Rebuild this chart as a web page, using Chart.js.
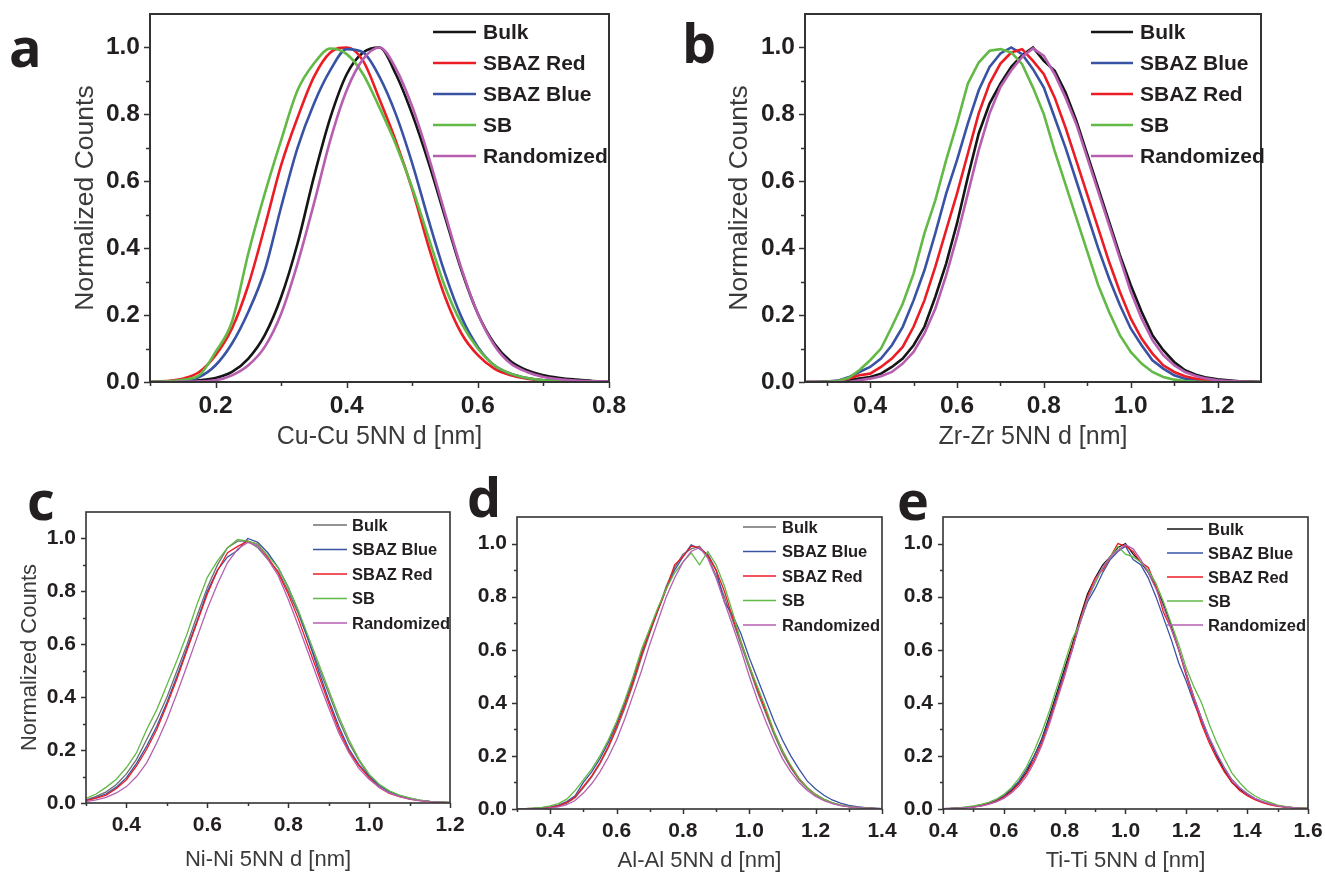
<!DOCTYPE html>
<html lang="en">
<head>
<meta charset="UTF-8">
<title>5NN distance distributions</title>
<script src="https://cdn.jsdelivr.net/npm/chart.js"></script>
<style>
    body { margin: 0; background: #fff; width: 1325px; height: 874px; position: relative; overflow: hidden; }
    .panel { position: absolute; }
    .tag { position: absolute; font: 700 54px "Open Sans", "Noto Sans", sans-serif; color: #231f20; line-height: 1; }
</style>
</head>
<body>
<div class="panel" style="left:0;top:0"><canvas id="chartA" width="660" height="462"></canvas></div>
<div class="panel" style="left:660px;top:0"><canvas id="chartB" width="665" height="462"></canvas></div>
<div class="panel" style="left:0;top:470px"><canvas id="chartC" width="470" height="404"></canvas></div>
<div class="panel" style="left:465px;top:470px"><canvas id="chartD" width="440" height="404"></canvas></div>
<div class="panel" style="left:895px;top:470px"><canvas id="chartE" width="430" height="404"></canvas></div>
<div class="tag" style="left:9px;top:19px">a</div>
<div class="tag" style="left:682px;top:15px">b</div>
<div class="tag" style="left:27px;top:472px">c</div>
<div class="tag" style="left:467px;top:469px">d</div>
<div class="tag" style="left:897px;top:472px">e</div>

<script>
// --- series (normalized counts vs 5NN distance in nm) ---
const namesA = ['Bulk', 'SBAZ Red', 'SBAZ Blue', 'SB', 'Randomized'];
const namesB = ['Bulk', 'SBAZ Blue', 'SBAZ Red', 'SB', 'Randomized'];
const yTicks = [0, 0.2, 0.4, 0.6, 0.8, 1.0];
const yMinor = [0.1, 0.3, 0.5, 0.7, 0.9];

// a: Cu-Cu
const cuX = [0.1,0.125,0.15,0.175,0.2,0.225,0.25,0.275,0.3,0.325,0.35,0.375,0.4,0.425,0.45,0.475,0.5,0.525,0.55,0.575,0.6,0.625,0.65,0.675,0.7,0.725,0.75,0.775,0.8];
const cuBulk = [0,0.001,0.002,0.005,0.012,0.03,0.07,0.14,0.254,0.414,0.613,0.79,0.92,0.985,1.0,0.92,0.8,0.655,0.493,0.334,0.204,0.115,0.062,0.035,0.02,0.012,0.007,0.003,0.001];
const cuRed = [0,0.003,0.01,0.03,0.08,0.16,0.29,0.464,0.648,0.79,0.912,0.985,1.0,0.96,0.845,0.72,0.575,0.404,0.254,0.145,0.08,0.04,0.02,0.01,0.005,0.003,0.001,0,0];
const cuBlue = [0,0.001,0.005,0.015,0.05,0.115,0.21,0.334,0.523,0.7,0.832,0.932,0.995,0.985,0.912,0.8,0.653,0.483,0.324,0.194,0.105,0.05,0.025,0.012,0.005,0.003,0.001,0,0];
const cuSB = [0,0.002,0.007,0.02,0.09,0.18,0.385,0.563,0.723,0.872,0.952,0.997,0.98,0.92,0.82,0.71,0.58,0.43,0.284,0.175,0.1,0.05,0.025,0.012,0.005,0.003,0.001,0,0];
const cuRand = [0,0,0.001,0.002,0.005,0.02,0.05,0.105,0.204,0.354,0.533,0.723,0.872,0.965,1.0,0.937,0.823,0.673,0.503,0.339,0.204,0.11,0.055,0.03,0.015,0.008,0.004,0.002,0.001];
const cuTicks = [0.2, 0.4, 0.6, 0.8];
const cuMinor = [0.1, 0.3, 0.5, 0.7];

// b: Zr-Zr
const zrX = [0.25,0.275,0.3,0.325,0.35,0.375,0.4,0.425,0.45,0.475,0.5,0.525,0.55,0.575,0.6,0.625,0.65,0.675,0.7,0.725,0.75,0.775,0.8,0.825,0.85,0.875,0.9,0.925,0.95,0.975,1.0,1.025,1.05,1.075,1.1,1.125,1.15,1.175,1.2,1.225,1.25,1.275,1.3];
const zrBulk = [0,0,0.001,0.002,0.005,0.01,0.015,0.025,0.045,0.07,0.11,0.165,0.254,0.354,0.474,0.613,0.743,0.832,0.892,0.942,0.977,1.0,0.96,0.93,0.865,0.78,0.68,0.58,0.48,0.38,0.29,0.21,0.14,0.095,0.06,0.035,0.022,0.013,0.008,0.005,0.002,0.001,0];
const zrBlue = [0,0,0.001,0.004,0.014,0.03,0.045,0.07,0.11,0.165,0.244,0.334,0.444,0.563,0.663,0.773,0.872,0.942,0.982,1.0,0.98,0.935,0.88,0.79,0.7,0.6,0.5,0.4,0.31,0.23,0.16,0.11,0.065,0.04,0.02,0.01,0.005,0.002,0.001,0,0,0,0];
const zrRed = [0,0,0,0.003,0.01,0.02,0.025,0.045,0.07,0.105,0.165,0.244,0.344,0.454,0.563,0.683,0.803,0.892,0.952,0.985,0.995,0.96,0.92,0.85,0.76,0.66,0.56,0.46,0.36,0.27,0.19,0.13,0.085,0.05,0.03,0.017,0.01,0.005,0.002,0.001,0,0,0];
const zrSB = [0,0,0.001,0.003,0.012,0.035,0.065,0.1,0.165,0.234,0.324,0.444,0.543,0.663,0.773,0.892,0.955,0.99,0.995,0.985,0.95,0.88,0.8,0.69,0.59,0.49,0.39,0.29,0.21,0.14,0.09,0.055,0.03,0.015,0.007,0.003,0.001,0,0,0,0,0,0];
const zrRand = [0,0,0,0,0,0.005,0.01,0.017,0.03,0.055,0.09,0.145,0.219,0.319,0.434,0.563,0.693,0.803,0.882,0.932,0.972,0.997,0.975,0.92,0.85,0.77,0.67,0.57,0.47,0.37,0.27,0.19,0.125,0.08,0.05,0.03,0.018,0.01,0.005,0.003,0.001,0,0];
const zrTicks = [0.4, 0.6, 0.8, 1.0, 1.2];
const zrMinor = [0.3, 0.5, 0.7, 0.9, 1.1];

// c: Ni-Ni
const niX = [0.3,0.325,0.35,0.375,0.4,0.425,0.45,0.475,0.5,0.525,0.55,0.575,0.6,0.625,0.65,0.675,0.7,0.725,0.75,0.775,0.8,0.825,0.85,0.875,0.9,0.925,0.95,0.975,1.0,1.025,1.05,1.075,1.1,1.125,1.15,1.175,1.2];
const niBulk = [0.012,0.025,0.042,0.07,0.11,0.165,0.24,0.315,0.4,0.5,0.6,0.71,0.815,0.9,0.965,0.99,0.99,0.965,0.92,0.877,0.8,0.715,0.615,0.515,0.415,0.315,0.228,0.16,0.103,0.068,0.043,0.028,0.018,0.011,0.006,0.004,0.001];
const niBlue = [0.01,0.02,0.035,0.06,0.096,0.15,0.215,0.29,0.38,0.48,0.585,0.69,0.8,0.88,0.93,0.955,1.0,0.985,0.945,0.89,0.815,0.725,0.615,0.5,0.39,0.29,0.205,0.145,0.1,0.066,0.042,0.027,0.017,0.01,0.006,0.003,0.001];
const niRed = [0.009,0.018,0.03,0.055,0.088,0.14,0.203,0.278,0.37,0.47,0.578,0.684,0.79,0.878,0.946,0.97,0.99,0.978,0.928,0.87,0.79,0.696,0.59,0.484,0.378,0.278,0.196,0.14,0.096,0.059,0.036,0.024,0.015,0.009,0.005,0.003,0.001];
const niSB = [0.017,0.034,0.06,0.09,0.134,0.19,0.278,0.353,0.446,0.54,0.64,0.753,0.853,0.915,0.965,0.996,0.99,0.978,0.934,0.89,0.815,0.728,0.628,0.528,0.428,0.328,0.24,0.165,0.109,0.071,0.046,0.03,0.019,0.011,0.006,0.004,0.002];
const niRand = [0.005,0.012,0.021,0.038,0.062,0.1,0.152,0.228,0.315,0.415,0.52,0.628,0.734,0.828,0.909,0.96,0.985,0.972,0.92,0.86,0.77,0.67,0.565,0.46,0.36,0.265,0.19,0.13,0.09,0.059,0.038,0.024,0.015,0.009,0.005,0.003,0.001];
const niTicks = [0.4, 0.6, 0.8, 1.0, 1.2];
const niMinor = [0.3, 0.5, 0.7, 0.9, 1.1];

// d: Al-Al
const alX = [0.3,0.325,0.35,0.375,0.4,0.425,0.45,0.475,0.5,0.525,0.55,0.575,0.6,0.625,0.65,0.675,0.7,0.725,0.75,0.775,0.8,0.825,0.85,0.875,0.9,0.925,0.95,0.975,1.0,1.025,1.05,1.075,1.1,1.125,1.15,1.175,1.2,1.225,1.25,1.275,1.3,1.325,1.35,1.375,1.4];
const alBulk = [0,0.001,0.002,0.003,0.006,0.011,0.022,0.042,0.08,0.12,0.17,0.23,0.3,0.38,0.47,0.57,0.66,0.75,0.84,0.91,0.96,0.98,0.99,0.95,0.88,0.8,0.71,0.62,0.53,0.44,0.36,0.28,0.21,0.155,0.11,0.077,0.052,0.034,0.022,0.014,0.009,0.005,0.003,0.002,0.001];
const alBlue = [0,0.001,0.002,0.004,0.008,0.015,0.028,0.05,0.1,0.14,0.19,0.25,0.32,0.4,0.49,0.59,0.67,0.75,0.83,0.9,0.95,0.995,0.98,0.96,0.9,0.78,0.73,0.66,0.57,0.49,0.41,0.33,0.26,0.2,0.15,0.105,0.075,0.052,0.034,0.022,0.014,0.009,0.005,0.003,0.001];
const alRed = [0,0.001,0.002,0.003,0.006,0.012,0.024,0.045,0.085,0.125,0.175,0.235,0.31,0.39,0.48,0.58,0.67,0.75,0.83,0.92,0.95,0.99,0.985,0.955,0.9,0.82,0.72,0.63,0.54,0.45,0.37,0.29,0.22,0.16,0.115,0.08,0.055,0.036,0.023,0.015,0.009,0.006,0.004,0.002,0.001];
const alSB = [0,0.001,0.003,0.006,0.012,0.02,0.037,0.069,0.11,0.15,0.2,0.26,0.33,0.41,0.5,0.6,0.68,0.76,0.83,0.89,0.93,0.965,0.92,0.97,0.92,0.84,0.74,0.63,0.54,0.46,0.38,0.29,0.22,0.165,0.115,0.08,0.055,0.037,0.024,0.015,0.01,0.006,0.004,0.002,0.001];
const alRand = [0,0,0.001,0.002,0.004,0.008,0.016,0.032,0.06,0.095,0.14,0.195,0.26,0.34,0.43,0.52,0.62,0.71,0.8,0.87,0.93,0.97,0.985,0.945,0.87,0.78,0.69,0.6,0.5,0.41,0.33,0.255,0.19,0.14,0.1,0.07,0.047,0.031,0.02,0.013,0.008,0.005,0.003,0.002,0.001];
const alTicks = [0.4, 0.6, 0.8, 1.0, 1.2, 1.4];
const alMinor = [0.3, 0.5, 0.7, 0.9, 1.1, 1.3];

// e: Ti-Ti
const tiX = [0.4,0.425,0.45,0.475,0.5,0.525,0.55,0.575,0.6,0.625,0.65,0.675,0.7,0.725,0.75,0.775,0.8,0.825,0.85,0.875,0.9,0.925,0.95,0.975,1.0,1.025,1.05,1.075,1.1,1.125,1.15,1.175,1.2,1.225,1.25,1.275,1.3,1.325,1.35,1.375,1.4,1.425,1.45,1.475,1.5,1.525,1.55,1.575,1.6];
const tiBulk = [0.001,0.002,0.003,0.005,0.008,0.013,0.02,0.03,0.047,0.07,0.1,0.14,0.2,0.265,0.35,0.44,0.53,0.62,0.72,0.81,0.87,0.92,0.95,0.985,1.0,0.96,0.93,0.89,0.835,0.77,0.69,0.6,0.51,0.42,0.34,0.265,0.2,0.145,0.1,0.075,0.054,0.038,0.026,0.018,0.012,0.008,0.005,0.003,0.002];
const tiBlue = [0.001,0.002,0.004,0.006,0.01,0.015,0.022,0.033,0.05,0.075,0.105,0.15,0.2,0.26,0.34,0.43,0.52,0.6,0.7,0.78,0.83,0.89,0.94,0.97,0.99,0.94,0.92,0.87,0.8,0.72,0.64,0.55,0.48,0.4,0.33,0.265,0.205,0.155,0.11,0.08,0.058,0.04,0.028,0.019,0.012,0.008,0.005,0.003,0.002];
const tiRed = [0,0.001,0.003,0.005,0.008,0.012,0.019,0.029,0.044,0.066,0.095,0.135,0.185,0.25,0.33,0.42,0.51,0.61,0.71,0.8,0.87,0.9,0.95,1.0,0.99,0.97,0.93,0.91,0.84,0.74,0.68,0.6,0.5,0.41,0.32,0.25,0.19,0.14,0.1,0.07,0.05,0.035,0.024,0.016,0.01,0.007,0.004,0.003,0.001];
const tiSB = [0.001,0.002,0.004,0.008,0.012,0.017,0.025,0.037,0.055,0.08,0.115,0.16,0.22,0.29,0.37,0.46,0.55,0.64,0.7,0.79,0.85,0.91,0.95,0.99,0.96,0.95,0.93,0.9,0.85,0.78,0.7,0.62,0.53,0.46,0.4,0.32,0.25,0.19,0.135,0.1,0.07,0.05,0.035,0.025,0.015,0.01,0.006,0.004,0.002];
const tiRand = [0.001,0.002,0.003,0.005,0.007,0.011,0.017,0.027,0.04,0.06,0.087,0.125,0.175,0.24,0.32,0.41,0.5,0.6,0.7,0.79,0.86,0.91,0.95,0.975,0.995,0.98,0.94,0.89,0.83,0.76,0.68,0.6,0.51,0.42,0.34,0.27,0.21,0.155,0.11,0.08,0.057,0.04,0.028,0.019,0.012,0.008,0.005,0.003,0.002];
const tiTicks = [0.4, 0.6, 0.8, 1.0, 1.2, 1.4, 1.6];
const tiMinor = [0.5, 0.7, 0.9, 1.1, 1.3, 1.5];

// --- look ---
Chart.defaults.font.family = '"Liberation Sans", Arial, sans-serif';
const palette = { 'Bulk': '#151515', 'SBAZ Red': '#ec1c24', 'SBAZ Blue': '#3953a4', 'SB': '#62b946', 'Randomized': '#b65fb1' };
const grayBulk = '#6f6f72';

const topStyle = { tick: 24.5, xTitle: 25, yTitle: 26.5, key: 21, line: 2.6, frame: 2, major: 6, minor: 4, tickPad: 10 };
const lowStyle = { tick: 21, xTitle: 22, yTitle: 22, key: 16.5, line: 1.3, frame: 1.6, major: 5, minor: 3, tickPad: 10 };

// frame, minor ticks and the in-plot key
const frameKey = {
    id: 'frameKey',
    afterDraw(chart, args, o) {
        const { ctx, chartArea: ca } = chart;
        const sx = chart.scales.x, sy = chart.scales.y;
        ctx.save();
        ctx.strokeStyle = '#333';
        ctx.lineWidth = o.frame;
        ctx.strokeRect(ca.left, ca.top, ca.right - ca.left, ca.bottom - ca.top);
        ctx.beginPath();
        o.xMajor.forEach(v => { const p = Math.round(sx.getPixelForValue(v)) + 0.5; ctx.moveTo(p, ca.bottom); ctx.lineTo(p, ca.bottom + o.major); });
        o.xMinor.forEach(v => { const p = Math.round(sx.getPixelForValue(v)) + 0.5; ctx.moveTo(p, ca.bottom); ctx.lineTo(p, ca.bottom + o.minor); });
        yTicks.forEach(v => { const p = Math.round(sy.getPixelForValue(v)) + 0.5; ctx.moveTo(ca.left, p); ctx.lineTo(ca.left - o.major, p); });
        yMinor.forEach(v => { const p = Math.round(sy.getPixelForValue(v)) + 0.5; ctx.moveTo(ca.left, p); ctx.lineTo(ca.left - o.minor, p); });
        ctx.lineWidth = 1.5;
        ctx.stroke();

        ctx.font = 'bold ' + o.keyFont + 'px "Liberation Sans", Arial, sans-serif';
        ctx.textBaseline = 'middle';
        ctx.fillStyle = '#231f20';
        chart.data.datasets.forEach((ds, i) => {
            const y = o.key.y + i * o.key.dy;
            ctx.strokeStyle = ds.borderColor;
            ctx.lineWidth = ds.borderWidth;
            ctx.beginPath();
            ctx.moveTo(o.key.x, y);
            ctx.lineTo(o.key.x + o.key.len, y);
            ctx.stroke();
            ctx.fillText(ds.label, o.key.x + o.key.len + o.key.gap, y + 1);
        });
        ctx.restore();
    }
};

function drawPanel(id, p) {
    const s = p.style;
    const datasets = p.names.map((name, i) => ({
        label: name,
        data: p.x.map((x, j) => ({ x, y: p.ys[i][j] })),
        borderColor: (name === 'Bulk' && p.grayBulk) ? grayBulk : palette[name],
        borderWidth: s.line,
        pointRadius: 0,
        cubicInterpolationMode: p.smooth ? 'monotone' : 'default',
        tension: 0,
        order: p.names.length - 1 - i   // later series end up on top, as in the figure
    }));
    new Chart(document.getElementById(id), {
        type: 'line',
        data: { datasets },
        plugins: [frameKey],
        options: {
            responsive: false,
            animation: false,
            layout: { padding: { left: 0, top: p.area.t, right: p.w - p.area.r, bottom: 0 } },
            scales: {
                x: {
                    type: 'linear', position: 'bottom', min: p.xMin, max: p.xMax,
                    afterBuildTicks: ax => { ax.ticks = p.xMajor.map(v => ({ value: v })); },
                    // fixed box so the plot area lands where the figure has it
                    afterFit: ax => { ax.height = p.h - p.area.b; ax.paddingLeft = 0; ax.paddingRight = 0; },
                    grid: { display: false, drawTicks: false },
                    border: { display: false },
                    ticks: { autoSkip: false, maxRotation: 0, padding: s.tickPad, color: '#231f20',
                             font: { size: s.tick, weight: 'bold' }, callback: v => v.toFixed(1) },
                    title: { display: true, text: p.xTitle, color: '#3a3a3a', font: { size: s.xTitle },
                             padding: { top: 0, bottom: p.xTitlePad } }
                },
                y: {
                    min: 0, max: 1.1,
                    afterBuildTicks: ax => { ax.ticks = yTicks.map(v => ({ value: v })); },
                    afterFit: ax => { ax.width = p.area.l; ax.paddingTop = 0; ax.paddingBottom = 0; },
                    grid: { display: false, drawTicks: false },
                    border: { display: false },
                    ticks: { autoSkip: false, padding: s.tickPad, color: '#231f20',
                             font: { size: s.tick, weight: 'bold' }, callback: v => v.toFixed(1) },
                    title: { display: !!p.yTitle, text: p.yTitle || '', color: '#3a3a3a', font: { size: s.yTitle },
                             padding: { top: p.yTitlePad || 0, bottom: 0 } }
                }
            },
            plugins: {
                legend: { display: false },
                tooltip: { enabled: false },
                frameKey: { frame: s.frame, major: s.major, minor: s.minor, keyFont: s.key,
                            xMajor: p.xMajor, xMinor: p.xMinor, key: p.key }
            }
        }
    });
}

drawPanel('chartA', {
    w: 660, h: 462, area: { l: 150, t: 14, r: 609, b: 382 }, style: topStyle, smooth: true,
    xMin: 0.1, xMax: 0.8, xMajor: cuTicks, xMinor: cuMinor,
    xTitle: 'Cu-Cu 5NN d [nm]', xTitlePad: 10, yTitle: 'Normalized Counts', yTitlePad: 70,
    names: namesA, x: cuX, ys: [cuBulk, cuRed, cuBlue, cuSB, cuRand],
    key: { x: 433, len: 43, gap: 7, y: 32, dy: 31 }
});
drawPanel('chartB', {
    w: 665, h: 462, area: { l: 145, t: 14, r: 601, b: 382 }, style: topStyle,
    xMin: 0.25, xMax: 1.3, xMajor: zrTicks, xMinor: zrMinor,
    xTitle: 'Zr-Zr 5NN d [nm]', xTitlePad: 10, yTitle: 'Normalized Counts', yTitlePad: 64,
    names: namesB, x: zrX, ys: [zrBulk, zrBlue, zrRed, zrSB, zrRand],
    key: { x: 431, len: 42, gap: 7, y: 32, dy: 31 }
});
drawPanel('chartC', {
    w: 470, h: 404, area: { l: 86, t: 42, r: 450, b: 333 }, style: lowStyle, grayBulk: true,
    xMin: 0.3, xMax: 1.2, xMajor: niTicks, xMinor: niMinor,
    xTitle: 'Ni-Ni 5NN d [nm]', xTitlePad: 1, yTitle: 'Normalized Counts', yTitlePad: 17,
    names: namesB, x: niX, ys: [niBulk, niBlue, niRed, niSB, niRand],
    key: { x: 313, len: 34, gap: 5, y: 55, dy: 24.5 }
});
drawPanel('chartD', {
    w: 440, h: 404, area: { l: 52, t: 47, r: 417, b: 339 }, style: lowStyle, grayBulk: true,
    xMin: 0.3, xMax: 1.4, xMajor: alTicks, xMinor: alMinor,
    xTitle: 'Al-Al 5NN d [nm]', xTitlePad: 0,
    names: namesB, x: alX, ys: [alBulk, alBlue, alRed, alSB, alRand],
    key: { x: 278, len: 33, gap: 6, y: 57, dy: 24.5 }
});
drawPanel('chartE', {
    w: 430, h: 404, area: { l: 48, t: 47, r: 413, b: 339 }, style: lowStyle,
    xMin: 0.4, xMax: 1.6, xMajor: tiTicks, xMinor: tiMinor,
    xTitle: 'Ti-Ti 5NN d [nm]', xTitlePad: 0,
    names: namesB, x: tiX, ys: [tiBulk, tiBlue, tiRed, tiSB, tiRand],
    key: { x: 272, len: 36, gap: 5, y: 59, dy: 24 }
});
</script>
</body>
</html>
